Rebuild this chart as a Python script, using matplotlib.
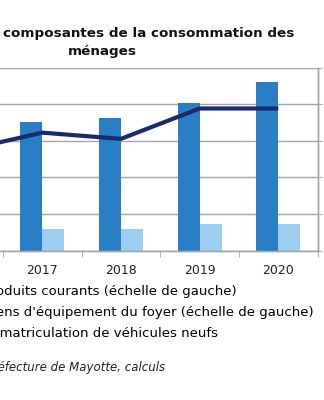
import numpy as np
import matplotlib
matplotlib.use("Agg")
import matplotlib.pyplot as plt
from matplotlib.patches import Patch
from matplotlib.lines import Line2D

# données (échelles estimées)
annees_barres = [2017, 2018, 2019, 2020]
produits_courants = [176, 181, 201, 230]   # échelle de gauche
biens_equipement = [30, 29, 36, 36]        # échelle de gauche
annees_ligne = [2016, 2017, 2018, 2019, 2020]
immatriculations = [2730, 3220, 3050, 3880, 3880]  # échelle de droite

labels = ["Produits courants (échelle de gauche)",
          "Biens d'équipement du foyer (échelle de gauche)",
          "Immatriculation de véhicules neufs"]

c_fonce = "#2a7ec5"
c_clair = "#9dcdf0"
c_ligne = "#1a2a6c"
c_grille = "#a6a6a6"

W, H = 324, 400
fig = plt.figure(figsize=(W / 100, H / 100), dpi=100)

# zone de tracé (le bord gauche sort de l'image)
x_right = 317.7
unit = 78.7
left_px = x_right - 5 * unit
ax = fig.add_axes([left_px / W, (H - 250.5) / H, (x_right - left_px) / W, (250.5 - 67.5) / H])
ax2 = ax.twinx()

bw = 0.28
x = np.array(annees_barres)
ax.bar(x - bw / 2, produits_courants, bw, color=c_fonce, zorder=2)
ax.bar(x + bw / 2, biens_equipement, bw, color=c_clair, zorder=2)
ax2.plot(annees_ligne, immatriculations, color=c_ligne, lw=3, solid_capstyle="butt")

ax.set_xlim(2015.5, 2020.5)
ax.set_ylim(0, 250)
ax.set_yticks(range(0, 251, 50))
ax2.set_ylim(0, 5000)
ax2.set_yticks(range(0, 5001, 1000))

ax.grid(axis="y", color=c_grille, lw=1, zorder=0)
ax.set_axisbelow(True)
for a in (ax, ax2):
    for s in a.spines.values():
        s.set_color(c_grille)
        s.set_linewidth(1)
    a.spines["top"].set_visible(False)
ax.set_xticks(annees_barres)
ax.set_xticks(np.arange(2015.5, 2021, 1), minor=True)
ax.tick_params(axis="x", which="major", length=0, labelsize=9, pad=10, colors="#222222")
ax.tick_params(axis="x", which="minor", length=4, color=c_grille)
ax.tick_params(axis="y", length=3, color=c_grille, labelsize=9)
ax2.tick_params(axis="y", length=3, color=c_grille, labelsize=9, pad=8)

fig.text(3 / W, 1 - 33 / H, "composantes de la consommation des", ha="left", va="center",
         fontsize=9.7, fontweight="bold", color="#111111")
fig.text(102.5 / W, 1 - 52 / H, "ménages", ha="center", va="center",
         fontsize=9.7, fontweight="bold", color="#111111")

handles = [Patch(color=c_fonce), Patch(color=c_clair), Line2D([], [], color=c_ligne, lw=3)]
fig.legend(handles, labels, loc="upper left", bbox_to_anchor=(-0.135, 1 - 285 / H),
           frameon=False, fontsize=9.5, labelspacing=0.61, handlelength=1.5,
           handletextpad=0.5, borderpad=0, borderaxespad=0)

fig.text(165 / W, 1 - 368 / H, "Sources : Préfecture de Mayotte, calculs", ha="right", va="center",
         fontsize=8.5, style="italic", color="#222222")

fig.savefig("out.png", dpi=100)
